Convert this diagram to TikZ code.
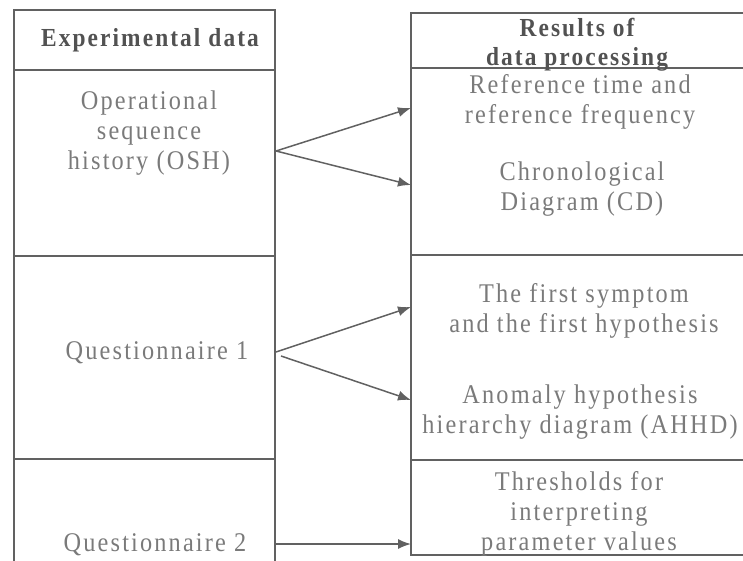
\documentclass[tikz,border=0pt]{standalone}
\usepackage{fontspec}
\setmainfont{Liberation Serif}[LetterSpace=8, FakeStretch=0.9]
\usetikzlibrary{arrows.meta}
\begin{document}
\begin{tikzpicture}[x=1pt,y=-1pt,
  cell/.style={draw=black!62, line width=1.5pt, inner sep=0pt},
  bodytxt/.style={text=black!52, font=\fontsize{27}{30}\selectfont, align=center, inner sep=0pt},
  headtxt/.style={text=black!68, font=\fontsize{26}{29}\selectfont\bfseries, align=center, inner sep=0pt},
  flow/.style={draw=black!62, line width=1.5pt, -{Latex[length=13pt,width=10pt]}}]
\useasboundingbox (0,0) rectangle (743,560);
\clip (0,0) rectangle (743,560);

% left column: experimental data
\node[cell, minimum width=261pt, minimum height=60pt]  (lhead) at (144.5,40)  {};
\node[cell, minimum width=261pt, minimum height=186pt] (losh)  at (144.5,163) {};
\node[cell, minimum width=261pt, minimum height=203pt] (lq1)   at (144.5,357.5) {};
\node[cell, minimum width=261pt, minimum height=120pt] (lq2)   at (144.5,519) {};

% right column: results of data processing
\node[cell, minimum width=345pt, minimum height=55pt]  (rhead) at (583.5,40.5)  {};
\node[cell, minimum width=345pt, minimum height=187pt] (rtime) at (583.5,161.5) {};
\node[cell, minimum width=345pt, minimum height=205pt] (rhyp)  at (583.5,357.5) {};
\node[cell, minimum width=345pt, minimum height=95pt]  (rthr)  at (583.5,507.5) {};

% texts
\node[headtxt] (thead) at (150,40) {Experimental data};
\node[headtxt] (trhead) at (577,45) {Results of\\data processing};

\node[bodytxt] (tosh) at (149,133) {Operational\\sequence\\history (OSH)};
\node[bodytxt] (tq1)  at (157,353) {Questionnaire 1};
\node[bodytxt] (tq2)  at (155,545) {Questionnaire 2};

\node[bodytxt] (tref) at (580,102) {Reference time and\\reference frequency};
\node[bodytxt] (tcd)  at (582,189) {Chronological\\Diagram (CD)};
\node[bodytxt] (tsym) at (584,311) {The first symptom\\and the first hypothesis};
\node[bodytxt] (tahhd) at (580,412) {Anomaly hypothesis\\hierarchy diagram (AHHD)};
\node[bodytxt] (tthr) at (579,514) {Thresholds for\\interpreting\\parameter values};

% connector end points on the column borders
\coordinate (oshout) at (276,151);
\coordinate (refin)  at (411,108);
\coordinate (cdin)   at (411,185);
\coordinate (q1out)  at (276,352);
\coordinate (q1outb) at (281,356);
\coordinate (symin)  at (411,307);
\coordinate (ahhdin) at (411,400);
\coordinate (q2out)  at (276,544);
\coordinate (thrin)  at (411,544);

\draw[flow] (oshout) -- (refin);
\draw[flow] (oshout) -- (cdin);
\draw[flow] (q1out) -- (symin);
\draw[flow] (q1outb) -- (ahhdin);
\draw[flow] (q2out) -- (thrin);
\end{tikzpicture}
\end{document}
